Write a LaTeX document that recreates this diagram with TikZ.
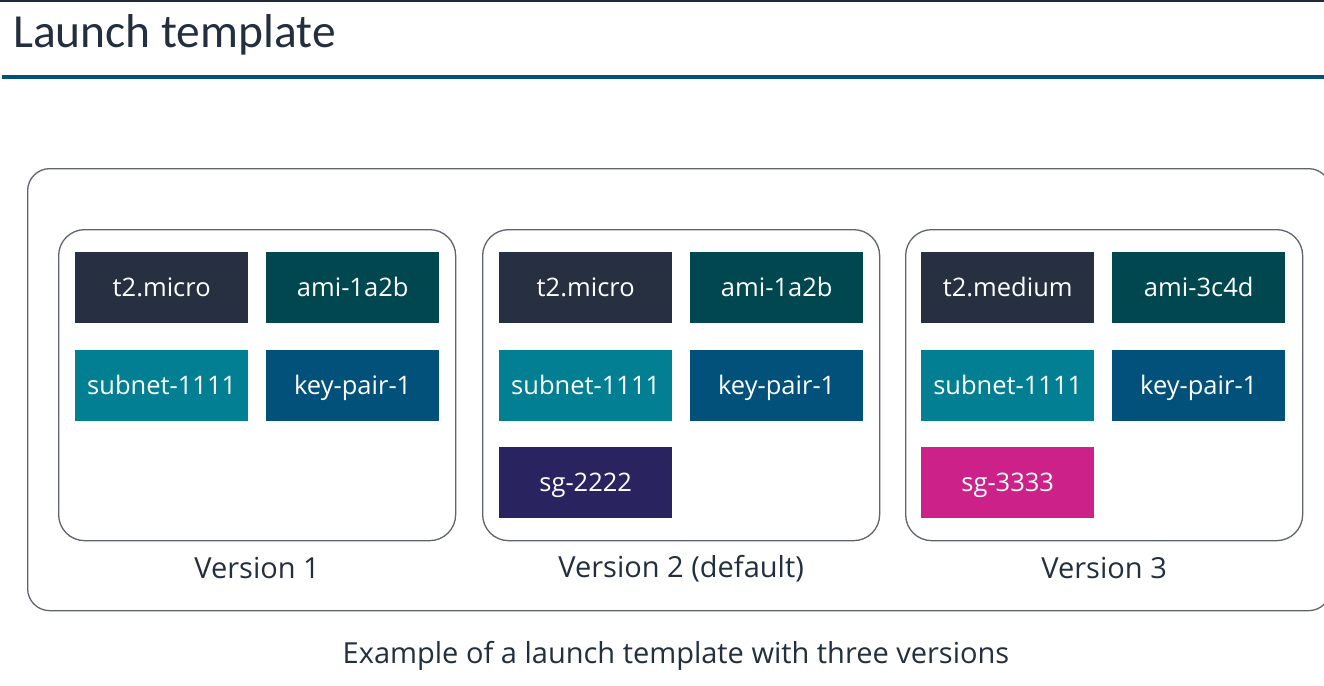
\documentclass[tikz,border=0pt]{standalone}
\usepackage{fontspec}
\setmainfont{Open Sans}
\newfontfamily\titlefont{Carlito}
\definecolor{ink}{HTML}{232F3E}
\definecolor{rule}{HTML}{005276}
\definecolor{frame}{HTML}{5F6470}
\definecolor{cType}{HTML}{263040}
\definecolor{cAmi}{HTML}{00474F}
\definecolor{cSubnet}{HTML}{037F93}
\definecolor{cKey}{HTML}{02517A}
\definecolor{cSgTwo}{HTML}{29235F}
\definecolor{cSgThree}{HTML}{CB2189}
\begin{document}
\begin{tikzpicture}[x=1pt,y=-1pt,
  tile/.style={anchor=north west, minimum width=173pt, minimum height=71pt,
    inner sep=0pt, text=white, text height=21pt, text depth=3pt,
    font=\fontsize{25.5}{29}\selectfont},
  verbox/.style={anchor=north west, draw=frame, line width=1.3pt,
    rounded corners=26pt, minimum width=397pt, minimum height=311pt, inner sep=0pt},
  verlabel/.style={text=ink, font=\fontsize{29}{33}\selectfont, inner sep=0pt}]
\useasboundingbox (0,0) rectangle (1324,685);
\fill[white] (0,0) rectangle (1324,685);

% header
\draw[line width=2pt, draw=ink!90!black] (0,1) -- (1324,1);
\node[anchor=west, text=ink, font=\titlefont\fontsize{47.5}{52}\selectfont, inner sep=0pt] (title) at (13,35) {Launch template};
\draw[line width=4pt, draw=rule] (2,77) -- (1324,77);

% launch template frame
\node[anchor=north west, draw=frame, line width=1.3pt, rounded corners=22pt,
  minimum width=1303pt, minimum height=442pt, inner sep=0pt] (tmpl) at (27,168) {};

% version boxes
\node[verbox] (v1) at (58,229) {};
\node[verbox] (v2) at (482,229) {};
\node[verbox] (v3) at (905,229) {};

% version 1
\node[tile, fill=cType]   (a1) at (75,252)  {t2.micro};
\node[tile, fill=cAmi]    (b1) at (266,252) {ami-1a2b};
\node[tile, fill=cSubnet] (c1) at (75,350)  {subnet-1111};
\node[tile, fill=cKey]    (d1) at (266,350) {key-pair-1};

% version 2
\node[tile, fill=cType]   (a2) at (499,252) {t2.micro};
\node[tile, fill=cAmi]    (b2) at (690,252) {ami-1a2b};
\node[tile, fill=cSubnet] (c2) at (499,350) {subnet-1111};
\node[tile, fill=cKey]    (d2) at (690,350) {key-pair-1};
\node[tile, fill=cSgTwo]  (e2) at (499,447) {sg-2222};

% version 3
\node[tile, fill=cType]   (a3) at (921,252)  {t2.medium};
\node[tile, fill=cAmi]    (b3) at (1112,252) {ami-3c4d};
\node[tile, fill=cSubnet] (c3) at (921,350)  {subnet-1111};
\node[tile, fill=cKey]    (d3) at (1112,350) {key-pair-1};
\node[tile, fill=cSgThree](e3) at (921,447)  {sg-3333};

% labels
\node[verlabel] (l1) at ([yshift=-27pt]v1.south) {Version 1};
\node[verlabel] (l2) at ([yshift=-27pt]v2.south) {Version 2 (default)};
\node[verlabel] (l3) at ([yshift=-27pt]v3.south) {Version 3};

\node[verlabel] (cap) at (676,656) {Example of a launch template with three versions};
\end{tikzpicture}
\end{document}
